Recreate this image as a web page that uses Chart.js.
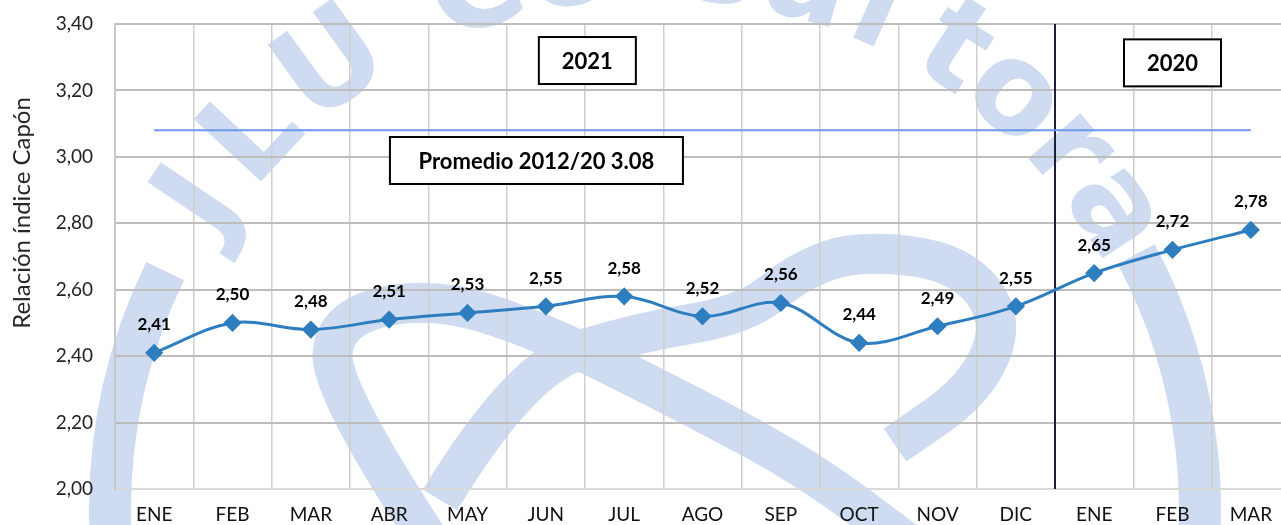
<!DOCTYPE html>
<html>
<head>
<meta charset="utf-8">
<script src="https://cdn.jsdelivr.net/npm/chart.js@4.4.0/dist/chart.umd.min.js"></script>
<style>
  html, body { margin: 0; padding: 0; background: #fff; overflow: hidden; }
  #wrap { width: 1300px; height: 525px; }
</style>
</head>
<body>
<div id="wrap"><canvas id="capon"></canvas></div>
<script>
// Relación índice Capón, ENE 2021 .. MAR 2020
const months = ['ENE', 'FEB', 'MAR', 'ABR', 'MAY', 'JUN', 'JUL', 'AGO', 'SEP', 'OCT', 'NOV', 'DIC', 'ENE', 'FEB', 'MAR'];
const ratio = [2.41, 2.50, 2.48, 2.51, 2.53, 2.55, 2.58, 2.52, 2.56, 2.44, 2.49, 2.55, 2.65, 2.72, 2.78];
const average = 3.08;
const yMin = 2.0;
const yMax = 3.4;
const yStep = 0.2;
const yTitle = 'Relación índice Capón';
const boxTexts = ['2021', '2020', 'Promedio 2012/20 3.08'];

const FONT = 'Lato, Carlito, Calibri, sans-serif';
const fmt = v => v.toFixed(2).replace('.', ',');

// smooth stroke through a list of points
function smoothPath(ctx, pts) {
    ctx.beginPath();
    ctx.moveTo(pts[0][0], pts[0][1]);
    for (let i = 1; i < pts.length - 1; i++) {
        const mx = (pts[i][0] + pts[i + 1][0]) / 2;
        const my = (pts[i][1] + pts[i + 1][1]) / 2;
        ctx.quadraticCurveTo(pts[i][0], pts[i][1], mx, my);
    }
    const last = pts[pts.length - 1];
    ctx.lineTo(last[0], last[1]);
    ctx.stroke();
}

// light blue logo behind the chart
const watermark = {
    id: 'watermark',
    beforeDraw(chart) {
        const ctx = chart.ctx;
        const cx = 655, cy = 510, R = 545;
        ctx.save();
        ctx.fillStyle = '#fff';
        ctx.fillRect(0, 0, chart.width, chart.height);
        ctx.strokeStyle = 'rgb(206,219,240)';
        ctx.fillStyle = 'rgb(206,219,240)';
        ctx.lineCap = 'butt';
        ctx.lineJoin = 'round';
        ctx.lineWidth = 42;
        ctx.beginPath();
        ctx.arc(cx, cy, R, -28 * Math.PI / 180, 206 * Math.PI / 180);
        ctx.stroke();

        // inner loops
        ctx.lineWidth = 40;
        smoothPath(ctx, [[432, 545], [330, 390], [335, 318], [430, 296], [540, 330], [700, 410], [810, 470], [910, 545]]);
        smoothPath(ctx, [[440, 500], [520, 368], [640, 332], [745, 315], [800, 270], [860, 250], [960, 262], [1005, 320], [975, 390], [895, 445]]);

        // lettering along the circle
        const letters = 'JLU Consultora';
        const angles = [214, 223, 234, 0, 251, 261, 269, 277, 286, 294, 303, 311, 319, 327];
        ctx.font = 'bold 126px "DejaVu Sans"';
        ctx.textAlign = 'center';
        ctx.textBaseline = 'middle';
        for (let i = 0; i < letters.length; i++) {
            if (letters[i] === ' ') continue;
            const a = angles[i] * Math.PI / 180;
            ctx.save();
            ctx.translate(cx + R * Math.cos(a), cy + R * Math.sin(a));
            ctx.rotate(a + Math.PI / 2);
            ctx.fillText(letters[i], 0, 0);
            ctx.restore();
        }
        ctx.restore();
    }
};

// year divider line
const divider = {
    id: 'divider',
    beforeDatasetsDraw(chart) {
        const { ctx, chartArea, scales } = chart;
        const x = (scales.x.getPixelForValue(11) + scales.x.getPixelForValue(12)) / 2;
        ctx.save();
        ctx.strokeStyle = '#1e1e3c';
        ctx.lineWidth = 2;
        ctx.beginPath();
        ctx.moveTo(x, chartArea.top);
        ctx.lineTo(x, chartArea.bottom);
        ctx.stroke();
        ctx.restore();
    }
};

// value labels, text boxes and axis title
const labels = {
    id: 'labels',
    afterDatasetsDraw(chart) {
        const { ctx, scales } = chart;
        const meta = chart.getDatasetMeta(0);
        ctx.save();
        ctx.fillStyle = '#000';
        ctx.font = 'bold 17px ' + FONT;
        ctx.textAlign = 'center';
        ctx.textBaseline = 'middle';
        meta.data.forEach((pt, i) => {
            ctx.fillText(fmt(ratio[i]), pt.x, pt.y - 28);
        });

        const boxes = [
            { text: boxTexts[0], at: 5.53, val: 3.29, w: 97 },
            { text: boxTexts[1], at: 13.0, val: 3.283, w: 97 },
            { text: boxTexts[2], at: 4.88, val: 2.989, w: 293 }
        ];
        ctx.font = 'bold 22px ' + FONT;
        boxes.forEach(b => {
            const x = scales.x.getPixelForValue(b.at);
            const y = scales.y.getPixelForValue(b.val);
            ctx.fillStyle = '#fff';
            ctx.fillRect(x - b.w / 2, y - 23.5, b.w, 47);
            ctx.strokeStyle = '#000';
            ctx.lineWidth = 2;
            ctx.strokeRect(x - b.w / 2, y - 23.5, b.w, 47);
            ctx.fillStyle = '#000';
            ctx.fillText(b.text, x, y + 1);
        });

        ctx.translate(22, 213);
        ctx.rotate(-Math.PI / 2);
        ctx.font = '24px ' + FONT;
        ctx.fillStyle = '#262626';
        ctx.fillText(yTitle, 0, 0);
        ctx.restore();
    }
};

new Chart(document.getElementById('capon'), {
    type: 'line',
    data: {
        labels: months,
        datasets: [
            {
                data: ratio,
                borderColor: '#2e7ebf',
                backgroundColor: '#2e7ebf',
                borderWidth: 3,
                pointStyle: 'rectRot',
                pointRadius: 7,
                pointHoverRadius: 7,
                tension: 0.35
            },
            {
                data: months.map(() => average),
                borderColor: '#6d97ea',
                borderWidth: 2,
                pointRadius: 0,
                tension: 0
            }
        ]
    },
    options: {
        responsive: true,
        maintainAspectRatio: false,
        animation: false,
        layout: { padding: { left: 0, right: 9, top: 24, bottom: 0 } },
        plugins: { legend: { display: false }, tooltip: { enabled: false } },
        scales: {
            x: {
                offset: true,
                grid: { offset: true, color: '#cfcfcf', lineWidth: 1.5, drawTicks: false },
                border: { color: '#d9d9d9', width: 2 },
                ticks: { color: '#111', font: { family: FONT, size: 19 }, padding: 14, autoSkip: false, maxRotation: 0 },
                afterFit(scale) { scale.height = 36; scale.paddingLeft = 0; scale.paddingRight = 0; }
            },
            y: {
                min: yMin,
                max: yMax,
                grid: { color: '#bdbdbd', lineWidth: 2, drawTicks: false },
                border: { color: '#c8c8c8', width: 2 },
                ticks: { stepSize: yStep, color: '#222', font: { family: FONT, size: 19 }, padding: 22, callback: v => fmt(v) },
                afterFit(scale) { scale.width = 115; scale.paddingTop = 0; scale.paddingBottom = 0; }
            }
        }
    },
    plugins: [watermark, divider, labels]
});
</script>
</body>
</html>
